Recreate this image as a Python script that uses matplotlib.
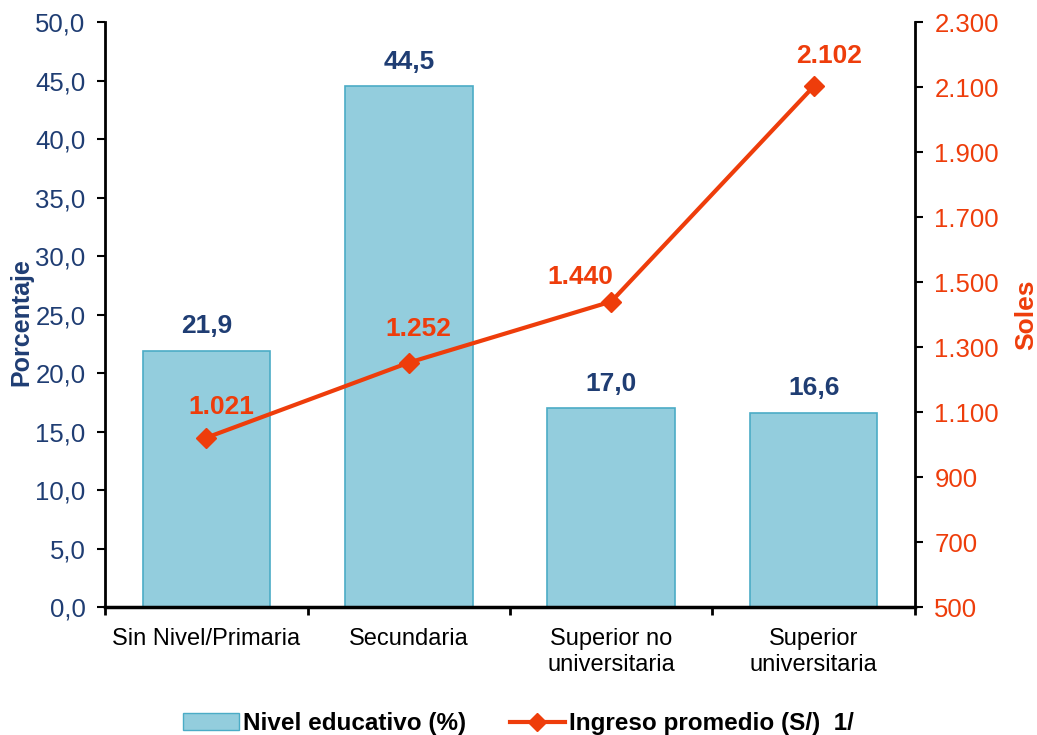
import matplotlib.pyplot as plt
from matplotlib.ticker import FuncFormatter, MultipleLocator, FixedLocator
from matplotlib.patches import Patch
from matplotlib.lines import Line2D

plt.rcParams['font.family'] = ['Liberation Sans', 'DejaVu Sans']

categorias = ['Sin Nivel/Primaria', 'Secundaria', 'Superior no\nuniversitaria', 'Superior\nuniversitaria']
nivel_pct = [21.9, 44.5, 17.0, 16.6]
ingreso = [1021, 1252, 1440, 2102]
soles_ticks = [500, 700, 900, 1100, 1300, 1500, 1700, 1900, 2100, 2300]
# label offsets (points) for the income labels
ingreso_off = [(11, 22), (7, 24), (-22, 18), (11, 22)]

azul = '#1F3D73'
naranja = '#EE3D0B'
barra = '#93CDDD'
borde = '#4BACC6'

fig = plt.figure(figsize=(10.37, 7.35), dpi=100)
ax = fig.add_axes([0.1013, 0.1741, 0.7810, 0.7959])
x = list(range(len(categorias)))

ax.bar(x, nivel_pct, width=0.63, color=barra, edgecolor=borde, linewidth=1.2, zorder=2)
for xi, v in zip(x, nivel_pct):
    ax.annotate(f'{v:.1f}'.replace('.', ','), (xi, v), xytext=(0, 9), textcoords='offset points',
                ha='center', va='bottom', fontsize=19, fontweight='bold', color=azul)

ax.set_xlim(-0.5, 3.5)
ax.set_ylim(0, 50)
ax.yaxis.set_major_locator(MultipleLocator(5))
ax.yaxis.set_major_formatter(FuncFormatter(lambda v, p: f'{v:.1f}'.replace('.', ',')))
ax.set_xticks(x)
ax.set_xticklabels(categorias, fontsize=17, linespacing=1.25)
ax.xaxis.set_minor_locator(FixedLocator([-0.5, 0.5, 1.5, 2.5, 3.5]))
ax.tick_params(axis='x', which='major', length=0, pad=15)
ax.tick_params(axis='x', which='minor', length=6, width=2, direction='out')
ax.tick_params(axis='y', length=6, width=1.5, direction='out', labelsize=18.5, labelcolor=azul, pad=8)
ax.spines['top'].set_visible(False)
ax.spines['right'].set_visible(False)
ax.spines['left'].set_linewidth(2)
ax.spines['bottom'].set_linewidth(2.5)
ax.set_ylabel('Porcentaje', fontsize=18, fontweight='bold', color=azul)
ax.yaxis.set_label_coords(-0.089, 0.487)

ax2 = ax.twinx()
ax2.plot(x, ingreso, color=naranja, linewidth=3, marker='D', markersize=10, zorder=3)
for xi, v, off in zip(x, ingreso, ingreso_off):
    ax2.annotate(f'{v:,}'.replace(',', '.'), (xi, v), xytext=off, textcoords='offset points',
                 ha='center', va='center', fontsize=19, fontweight='bold', color=naranja)
ax2.set_ylim(500, 2300)
ax2.yaxis.set_major_locator(FixedLocator(soles_ticks))
ax2.yaxis.set_major_formatter(FuncFormatter(lambda v, p: f'{int(v):,}'.replace(',', '.')))
ax2.tick_params(axis='y', length=6, width=1.5, direction='out', labelsize=18.5, labelcolor=naranja, pad=8)
for s in ['top', 'left', 'bottom']:
    ax2.spines[s].set_visible(False)
ax2.spines['right'].set_linewidth(2)
ax2.set_ylabel('Soles', fontsize=19, fontweight='bold', color=naranja)
ax2.yaxis.set_label_coords(1.123, 0.50)

handles = [Patch(facecolor=barra, edgecolor=borde, label='Nivel educativo (%)'),
           Line2D([], [], color=naranja, linewidth=3, marker='D', markersize=9, label='Ingreso promedio (S/)  1/')]
fig.legend(handles=handles, loc='lower center', bbox_to_anchor=(0.5, -0.03), ncol=2, frameon=False,
           prop={'size': 17.5, 'weight': 'bold'}, handlelength=2.3,
           handletextpad=0.15, columnspacing=1.8)

fig.savefig('out.png', dpi=100)
